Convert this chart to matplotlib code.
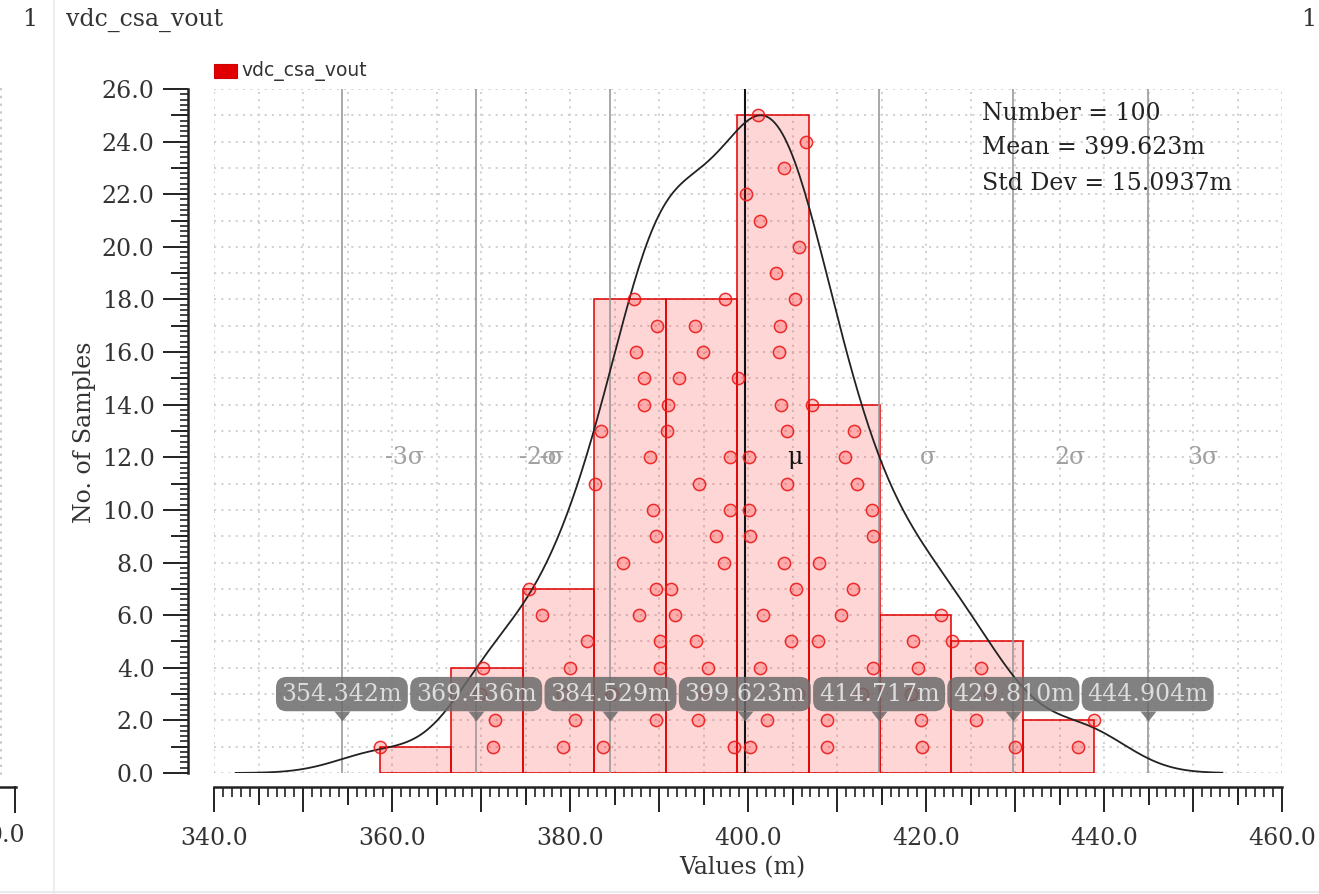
import numpy as np
import matplotlib.pyplot as plt
from matplotlib.ticker import MultipleLocator, FuncFormatter
from matplotlib.lines import Line2D
from matplotlib.patches import Rectangle
from matplotlib.markers import TICKDOWN, TICKLEFT
from matplotlib.transforms import ScaledTranslation

plt.rcParams['font.family'] = ['DejaVu Serif']

# samples (m) grouped by histogram bin, listed in stacking order
bin1 = [358.62]
bin2 = [371.31, 371.54, 369.85, 370.19]
bin3 = [379.15, 380.53, 379.21, 379.97, 381.84, 376.79, 375.39]
bin4 = [383.71, 389.60, 384.65, 390.10, 390.05, 387.72, 389.63, 385.96, 389.60,
        389.33, 382.80, 388.96, 383.45, 388.25, 388.32, 387.35, 389.71, 387.19]
bin5 = [398.39, 394.38, 395.10, 395.44, 394.09, 391.76, 391.31, 397.30, 396.37,
        397.94, 394.46, 397.94, 390.85, 390.94, 392.25, 394.94, 394.01, 397.38]
bin6 = [400.19, 402.10, 405.60, 401.31, 404.79, 401.65, 405.35, 404.00, 400.25,
        400.15, 404.34, 400.05, 404.34, 403.67, 398.85, 403.45, 403.56, 405.24,
        403.11, 405.69, 401.31, 399.74, 404.00, 406.47, 401.09]
bin7 = [408.84, 408.90, 412.80, 414.01, 407.83, 410.42, 411.76, 407.94, 414.05,
        413.90, 412.21, 410.86, 411.87, 407.16]
bin8 = [419.55, 419.48, 418.30, 419.10, 418.54, 421.73]
bin9 = [430.04, 425.58, 427.20, 426.15, 422.95]
bin10 = [437.08, 438.90]
bins = [bin1, bin2, bin3, bin4, bin5, bin6, bin7, bin8, bin9, bin10]

n_samples = 100
mean = 399.623
std_dev = 15.0937
sigma_steps = [-3, -2, -1, 0, 1, 2, 3]
sigma_names = ['-3σ', '-2σ', '-σ', 'μ', 'σ', '2σ', '3σ']
name_x = [361.4, 376.4, 378.0, 405.2, 420.2, 436.2, 451.1]
curve_lo, curve_hi = 342.4, 453.3

W, H = 1319, 894
fig = plt.figure(figsize=(W / 100, H / 100), dpi=100)


def fx(px):
    return px / W


def fy(py):
    return 1 - py / H


ax = fig.add_axes([fx(214.3), fy(773), (1282 - 214.3) / W, (773 - 89) / H])
ax.set_xlim(340, 460)
ax.set_ylim(0, 26)

# dotted background grid
grid_kw = dict(color='#cfcfcf', lw=1.3, ls=(0, (1.2, 2.8)), zorder=0)
for gx in np.arange(340, 461, 5):
    ax.axvline(gx, **grid_kw)
for gy in np.arange(0, 27, 1):
    ax.axhline(gy, **grid_kw)

values = np.concatenate(bins)
edges = np.linspace(values.min(), values.max(), len(bins) + 1)
counts, _ = np.histogram(values, edges)
ax.bar(edges[:-1], counts, width=np.diff(edges), align='edge',
       facecolor=(1, 0, 0, 0.16), edgecolor='#e00000', lw=1.1, zorder=2)

# sigma / mean markers
for k in sigma_steps:
    xv = mean + k * std_dev
    if k == 0:
        ax.axvline(xv, color='#111111', lw=1.5, zorder=3)
    else:
        ax.axvline(xv, color='#9a9a9a', lw=1.2, zorder=3)

for name, tx in zip(sigma_names, name_x):
    ax.text(tx, 12, name, ha='center', va='center', fontsize=17,
            color='#111111' if name == 'μ' else '#a0a0a0', zorder=3)

# smoothed density of the samples, scaled to the tallest bar
xs = np.linspace(curve_lo, curve_hi, 400)
bw = 4.8
dens = np.exp(-0.5 * ((xs[:, None] - values[None, :]) / bw) ** 2).sum(axis=1)
ax.plot(xs, dens / dens.max() * counts.max(), color='#222222', lw=1.3, zorder=4)

# individual samples
for b in bins:
    ax.plot(b, np.arange(1, len(b) + 1), 'o', ms=8.8, mfc=(1, 0, 0, 0.2),
            mec=(0.92, 0.1, 0.1, 0.9), mew=1.1, zorder=5, clip_on=False)

# value tags on the sigma lines
tag_col = (0.42, 0.42, 0.42, 0.85)
pointer = [(-0.8, 0.5), (0.8, 0.5), (0, -0.5)]
for k in sigma_steps:
    xv = mean + k * std_dev
    ax.text(xv, 3.0, f'{xv:.3f}m', ha='center', va='center', fontsize=17,
            color='#dddddd', zorder=7,
            bbox=dict(boxstyle='round,pad=0.24,rounding_size=0.45', fc=tag_col, ec='none'))
    ax.plot(xv, 2.15, marker=pointer, ms=11.5, color=tag_col, mew=0, zorder=7)

# axes styling
for s in ['top', 'right']:
    ax.spines[s].set_visible(False)
ax.spines['left'].set_position(('outward', 19))
ax.spines['bottom'].set_position(('outward', 10))
for s in ['left', 'bottom']:
    ax.spines[s].set_linewidth(1.8)
    ax.spines[s].set_color('#222222')

ax.xaxis.set_major_locator(MultipleLocator(10))
ax.xaxis.set_minor_locator(MultipleLocator(1))
ax.xaxis.set_major_formatter(FuncFormatter(lambda v, p: f'{v:.1f}' if round(v) % 20 == 0 else ''))
ax.yaxis.set_major_locator(MultipleLocator(2))
ax.yaxis.set_minor_locator(MultipleLocator(0.2))
ax.yaxis.set_major_formatter(FuncFormatter(lambda v, p: f'{v:.1f}'))
ax.tick_params(axis='x', which='major', length=18, width=1.4, pad=11, labelsize=17,
               color='#222222', labelcolor='#333333')
ax.tick_params(axis='x', which='minor', length=7, width=1.2, color='#222222')
ax.tick_params(axis='y', which='major', length=18, width=1.4, pad=6, labelsize=17,
               color='#222222', labelcolor='#333333')
ax.tick_params(axis='y', which='minor', length=5.5, width=1.2, color='#222222')

# mid-length ticks
xt = ax.get_xaxis_transform() + ScaledTranslation(0, -10 / 72, fig.dpi_scale_trans)
ax.plot(np.arange(345, 460, 10), np.zeros(12), ls='none', marker=TICKDOWN, ms=12.6,
        mew=1.4, color='#222222', transform=xt, clip_on=False)
yt = ax.get_yaxis_transform() + ScaledTranslation(-19 / 72, 0, fig.dpi_scale_trans)
ax.plot(np.zeros(13), np.arange(1, 26, 2), ls='none', marker=TICKLEFT, ms=12.6,
        mew=1.4, color='#222222', transform=yt, clip_on=False)

fig.text(fx(84), fy(432), 'No. of Samples', rotation=90, ha='center', va='center',
         fontsize=17, color='#333333')
fig.text(fx(742), fy(868), 'Values (m)', ha='center', va='center', fontsize=17,
         color='#333333')

# statistics block
for i, line in enumerate([f'Number = {n_samples}', f'Mean = {mean}m', f'Std Dev = {std_dev}m']):
    fig.text(fx(982), fy(113 + 35 * i), line, ha='left', va='center', fontsize=17,
             color='#222222')

# legend
fig.add_artist(Rectangle((fx(214), fy(78)), 23 / W, 14 / H, transform=fig.transFigure,
                         fc='#e00000', ec='#d00000', lw=0.8))
fig.text(fx(241), fy(71), 'vdc_csa_vout', ha='left', va='center', fontsize=13.5,
         family='DejaVu Sans', color='#333333')

# panel header and frame
fig.text(fx(30), fy(20), '1', ha='center', va='center', fontsize=17, color='#333333')
fig.text(fx(66), fy(20), 'vdc_csa_vout', ha='left', va='center', fontsize=17, color='#333333')
fig.text(fx(1309), fy(20), '1', ha='center', va='center', fontsize=17, color='#333333')
fig.add_artist(Line2D([fx(54), fx(54)], [0, 1], color='#eeeeee', lw=1.5))
fig.add_artist(Line2D([0, 1], [fy(892), fy(892)], color='#e6e6e6', lw=1.2))
fig.add_artist(Line2D([fx(1), fx(1)], [fy(88), fy(775)], color='#c8c8c8', lw=1.4,
                      ls=(0, (1.2, 2.8))))
fig.add_artist(Line2D([0, fx(16)], [fy(787), fy(787)], color='#222222', lw=1.8))
fig.add_artist(Line2D([fx(15), fx(15)], [fy(787), fy(812)], color='#222222', lw=1.4))
fig.text(fx(6), fy(836), '0.0', ha='center', va='center', fontsize=17, color='#333333')

fig.savefig('out.png', dpi=100)
